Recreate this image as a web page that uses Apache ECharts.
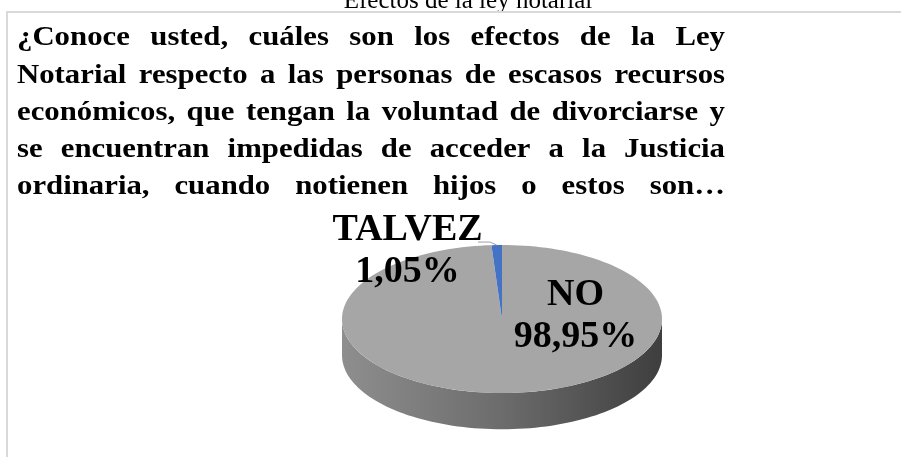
<!DOCTYPE html>
<html>
<head>
<meta charset="utf-8">
<script src="https://cdn.jsdelivr.net/npm/echarts@6/dist/echarts.min.js"></script>
<style>
  html, body { margin: 0; padding: 0; background: #fff; }
  #chart { width: 901px; height: 457px; }
</style>
</head>
<body>
<div id="chart"></div>
<script>
// data
const categories = ['NO', 'TALVEZ'];
const values = [98.95, 1.05];
const colors = ['#a6a6a6', '#4472c4'];
const caption = 'Efectos de la ley notarial';
const titleLines = [
  '¿Conoce usted, cuáles son los efectos de la Ley',
  'Notarial respecto a las personas de escasos recursos',
  'económicos, que tengan la voluntad de divorciarse y',
  'se encuentran impedidas de acceder a la Justicia',
  'ordinaria, cuando notienen hijos o estos son…'
];

// label anchors in pie units (x right, y up, radius 1)
const labelAt = { NO: [0.46, 0.04], TALVEZ: [-0.59, 0.92] };
const depth = 0.49;
const titleFont = 'bold 27px "Liberation Serif"';
const titleStretch = 1.14;

const fmt = v => v.toFixed(2).replace('.', ',') + '%';

// start / value pairs, clockwise from 12 o'clock
let acc = 0;
const pieData = values.map((v, i) => {
  const item = { name: categories[i], value: [acc, v], itemStyle: { color: colors[i] } };
  acc += v;
  return item;
});
const total = acc;

// justified title built word by word
const ctx = document.createElement('canvas').getContext('2d');
ctx.font = titleFont;
const textLeft = 17, textRight = 725;
const titleEls = [];
titleLines.forEach((line, li) => {
  const words = line.split(' ');
  const widths = words.map(w => ctx.measureText(w).width * titleStretch);
  const sum = widths.reduce((a, b) => a + b, 0);
  const gap = (textRight - textLeft - sum) / (words.length - 1);
  let x = textLeft;
  words.forEach((w, wi) => {
    titleEls.push({
      type: 'text',
      x: x, y: 25 + li * 37.2,
      scaleX: titleStretch,
      style: { text: w, font: titleFont, fill: '#000', textAlign: 'left', textVerticalAlign: 'top' }
    });
    x += widths[wi] + gap;
  });
});

function arcPts(api, a1, a2, dy) {
  const pts = [];
  const n = Math.max(2, Math.ceil(Math.abs(a2 - a1) / 2));
  for (let k = 0; k <= n; k++) {
    const a = (a1 + (a2 - a1) * k / n) * Math.PI / 180;
    const p = api.coord([Math.sin(a), Math.cos(a)]);
    pts.push([p[0], p[1] + dy]);
  }
  return pts;
}

function renderItem(params, api) {
  const start = api.value(0) / total * 360;
  const end = start + api.value(1) / total * 360;
  const name = categories[params.dataIndex];
  const color = colors[params.dataIndex];
  const depthPx = api.size([0, depth])[1];
  const c = api.coord([0, 0]);
  const children = [];

  // front side wall, visible between 90 and 270 deg
  const s1 = Math.max(start, 90), s2 = Math.min(end, 270);
  if (s2 > s1) {
    const top = arcPts(api, s1, s2, 0);
    const bot = arcPts(api, s1, s2, depthPx).reverse();
    children.push({
      type: 'polygon',
      shape: { points: top.concat(bot) },
      style: {
        fill: new echarts.graphic.LinearGradient(0, 0, 1, 0, [
          { offset: 0, color: '#8e8e8e' },
          { offset: 0.5, color: '#6c6c6c' },
          { offset: 1, color: '#3e3e3e' }
        ])
      }
    });
  }

  // top face
  children.push({
    type: 'polygon',
    shape: { points: [c].concat(arcPts(api, start, end, 0)) },
    style: { fill: color }
  });

  // label
  const at = labelAt[name];
  const lp = api.coord(at);
  children.push({
    type: 'text',
    x: lp[0], y: lp[1],
    style: {
      text: name + '\n' + fmt(values[params.dataIndex]),
      fontFamily: 'Liberation Serif', fontWeight: 'bold', fontSize: 38,
      lineHeight: 42, fill: '#000', align: 'center', verticalAlign: 'middle'
    }
  });

  // leader line for the small slice
  if (name === 'TALVEZ') {
    const mid = (start + end) / 2 * Math.PI / 180;
    const e = api.coord([Math.sin(mid), Math.cos(mid)]);
    const p1 = api.coord([-0.15, 1.04]);
    const p2 = api.coord([-0.075, 1.04]);
    children.push({
      type: 'polyline',
      shape: { points: [p1, p2, e] },
      style: { stroke: '#a0a0a0', lineWidth: 1, fill: null }
    });
  }
  return { type: 'group', children: children };
}

const chart = echarts.init(document.getElementById('chart'), null, { renderer: 'canvas' });
chart.setOption({
  backgroundColor: '#fff',
  animation: false,
  grid: { left: 342, top: 245, width: 320, height: 148 },
  xAxis: { type: 'value', min: -1, max: 1, show: false },
  yAxis: { type: 'value', min: -1, max: 1, show: false },
  graphic: [
    {
      type: 'text', x: 468, y: -11,
      style: { text: caption, font: '25px "Liberation Serif"', fill: '#000', textAlign: 'center', textVerticalAlign: 'top' }
    },
    {
      type: 'polyline',
      shape: { points: [[7, 457], [7, 12], [901, 12]] },
      style: { stroke: '#d9d9d9', lineWidth: 2, fill: null }
    }
  ].concat(titleEls),
  series: [{
    type: 'custom',
    clip: false,
    data: pieData,
    renderItem: renderItem
  }]
});
</script>
</body>
</html>
